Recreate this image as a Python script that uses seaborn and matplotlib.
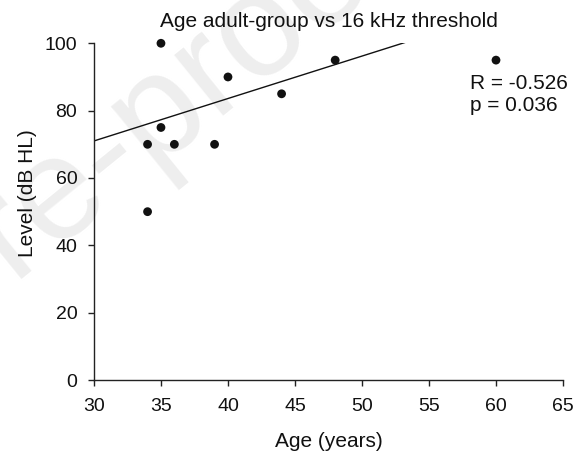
import numpy as np
import pandas as pd
import matplotlib
matplotlib.use("Agg")
import matplotlib.pyplot as plt
import seaborn as sns

# Age of each adult participant and their 16 kHz threshold
age_years = [34, 34, 35, 35, 36, 39, 40, 44, 48, 60]
level_db = [70, 50, 100, 75, 70, 70, 90, 85, 95, 95]

# Trend line coefficients (level = intercept + slope * age)
fit_intercept = 33.2
fit_slope = 1.26

stat_labels = ["R = -0.526", "p = 0.036"]

x_ticks = [30, 35, 40, 45, 50, 55, 60, 65]
y_ticks = [0, 20, 40, 60, 80, 100]

sns.set_theme(style="white")
plt.rcParams["font.family"] = ["Liberation Sans", "DejaVu Sans"]

df = pd.DataFrame({"age": age_years, "level": level_db})

fig = plt.figure(figsize=(5.8, 4.59), dpi=100)
fig.patch.set_facecolor("white")

# faint diagonal watermark behind the plot
fig.text(-0.11, 0.262, "Pre-proof", rotation=39, rotation_mode="anchor",
         fontsize=105, color="#eeeeee", ha="left", va="baseline", zorder=-5)

ax = fig.add_axes([0.162, 0.172, 0.8087, 0.7337])
ax.patch.set_alpha(0)

sns.scatterplot(data=df, x="age", y="level", ax=ax, color="#111111",
                s=40, edgecolor="none", zorder=3, clip_on=False)

xs = np.array([x_ticks[0], x_ticks[-1]], dtype=float)
trend = pd.DataFrame({"age": xs, "level": fit_intercept + fit_slope * xs})
sns.lineplot(data=trend, x="age", y="level", ax=ax, color="#111111",
             linewidth=1.0, zorder=2)

ax.set_xlim(x_ticks[0], x_ticks[-1])
ax.set_ylim(y_ticks[0], y_ticks[-1])
ax.set_xticks(x_ticks)
ax.set_yticks(y_ticks)

for side in ["top", "right"]:
    ax.spines[side].set_visible(False)
for side in ["left", "bottom"]:
    ax.spines[side].set_color("#222222")
    ax.spines[side].set_linewidth(1.0)

ax.tick_params(axis="both", which="major", direction="out", length=4,
               width=1.0, color="#222222", labelsize=14, labelcolor="#111111",
               bottom=True, left=True)
ax.tick_params(axis="x", pad=9)
ax.tick_params(axis="y", pad=8)

ax.set_xlabel("Age (years)", fontsize=15, color="#111111", labelpad=12)
ax.set_ylabel("Level (dB HL)", fontsize=15, color="#111111")
ax.yaxis.set_label_coords(-0.1215, 0.555)

ax.set_title("Age adult-group vs 16 kHz threshold", fontsize=15,
             color="#111111", pad=12)

ax.text(0.802, 0.908, "\n".join(stat_labels), transform=ax.transAxes,
        fontsize=15, color="#111111", ha="left", va="top", linespacing=1.2)

fig.savefig("out.png", dpi=100, facecolor="white")
